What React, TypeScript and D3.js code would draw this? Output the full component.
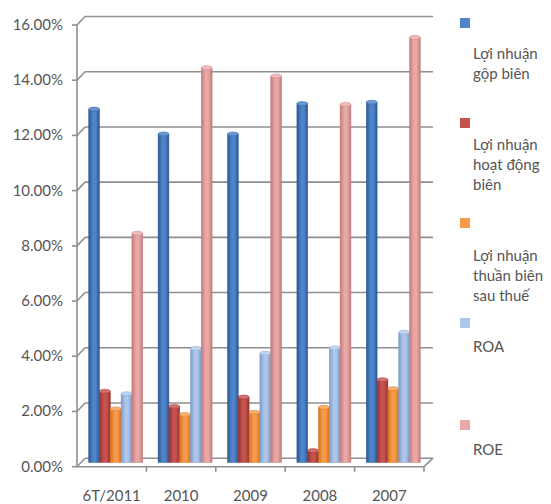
import React from "react";
import * as d3 from "d3";

const categories = ["6T/2011", "2010", "2009", "2008", "2007"];
const seriesNames = [
  "Lợi nhuận gộp biên",
  "Lợi nhuận hoạt động biên",
  "Lợi nhuận thuần biên sau thuế",
  "ROA",
  "ROE",
];
const legendLines = [
  ["Lợi nhuận", "gộp biên"],
  ["Lợi nhuận", "hoạt động", "biên"],
  ["Lợi nhuận", "thuần biên", "sau thuế"],
  ["ROA"],
  ["ROE"],
];
const grossMargin = [12.8, 11.9, 11.9, 13.0, 13.05];
const operatingMargin = [2.58, 2.03, 2.37, 0.43, 3.0];
const netMargin = [1.94, 1.74, 1.82, 2.0, 2.67];
const roa = [2.49, 4.13, 3.96, 4.15, 4.72];
const roe = [8.3, 14.3, 14.0, 12.97, 15.4];
const yTicks = [0, 2, 4, 6, 8, 10, 12, 14, 16];

const seriesValues = [grossMargin, operatingMargin, netMargin, roa, roe];
const colors = [
  { edge: "#2b5895", mid: "#4f84c8", top: "#6a98d4" },
  { edge: "#963130", mid: "#c4524f", top: "#d4716e" },
  { edge: "#d4721c", mid: "#f89a4c", top: "#fab070" },
  { edge: "#7c9cc9", mid: "#aec6e8", top: "#c2d5ef" },
  { edge: "#c27b7b", mid: "#e8a8a8", top: "#f0bcbc" },
];

const FONT = "Lato, 'Open Sans', sans-serif";

export default function App() {
  const left = 77;
  const right = 424;
  const dx = 8;
  const dy = -8.5;
  const y = d3.scaleLinear().domain([0, 16]).range([466.7, 25]);
  const x0 = d3.scaleBand<string>().domain(categories).range([left, right]).paddingInner(0).paddingOuter(0);
  const innerW = 54;
  const x1 = d3
    .scaleBand<number>()
    .domain(d3.range(seriesNames.length))
    .range([(x0.bandwidth() - innerW) / 2, (x0.bandwidth() + innerW) / 2]);
  const bw = x1.bandwidth();

  const legendSquareTop = [18, 118, 218, 318, 420];
  const legendBaseline = [59, 150, 261, 352, 455];

  const gridColor = "#8f8f8f";
  const textColor = "#555555";

  return (
    <svg
      width={551}
      height={504}
      style={{ position: "absolute", left: 0, top: 0, background: "#fff" }}
      fontFamily={FONT}
    >
      <defs>
        {colors.map((c, i) => (
          <linearGradient key={i} id={`g${i}`} x1="0" x2="1" y1="0" y2="0">
            <stop offset="0%" stopColor={c.edge} />
            <stop offset="40%" stopColor={c.mid} />
            <stop offset="65%" stopColor={c.mid} />
            <stop offset="100%" stopColor={c.edge} />
          </linearGradient>
        ))}
      </defs>
      <rect width={551} height={504} fill="#fff" />

      {yTicks.map((t) => {
        const yy = y(t);
        return (
          <g key={t} stroke={gridColor} strokeWidth={1.6} fill="none">
            <line x1={left + dx} x2={right + dx + 1} y1={yy + dy} y2={yy + dy} />
            <line x1={left} x2={left + dx} y1={yy} y2={yy + dy} />
            <line x1={left - 5} x2={left} y1={yy} y2={yy} />
          </g>
        );
      })}
      <line x1={left} x2={left} y1={y(16)} y2={y(0)} stroke={gridColor} strokeWidth={1.6} />
      <line x1={left} x2={right} y1={y(0)} y2={y(0)} stroke={gridColor} strokeWidth={1.6} />
      <line x1={right} x2={right + dx + 1} y1={y(0)} y2={y(0) + dy} stroke={gridColor} strokeWidth={1.6} />
      {categories.map((c) => (
        <line
          key={c}
          x1={(x0(c) as number) + x0.bandwidth()}
          x2={(x0(c) as number) + x0.bandwidth()}
          y1={y(0)}
          y2={y(0) + 5}
          stroke={gridColor}
          strokeWidth={1.6}
        />
      ))}

      {categories.map((c, ci) => (
        <g key={c}>
          {seriesValues.map((vals, si) => {
            const bx = (x0(c) as number) + (x1(si) as number) + dx / 2;
            const base = y(0) + dy / 2;
            const top = y(vals[ci]) + dy / 2;
            const ry = 2;
            return (
              <g key={si}>
                <rect
                  x={bx}
                  y={top}
                  width={bw}
                  height={base - top}
                  fill={`url(#g${si})`}
                  stroke={colors[si].edge}
                  strokeWidth={0.6}
                  strokeOpacity={0.8}
                />
                <ellipse
                  cx={bx + bw / 2}
                  cy={top}
                  rx={bw / 2}
                  ry={ry}
                  fill={colors[si].top}
                  stroke={colors[si].edge}
                  strokeWidth={0.6}
                  strokeOpacity={0.8}
                />
              </g>
            );
          })}
        </g>
      ))}

      {yTicks.map((t) => (
        <text key={t} x={63} y={y(t) + 5} textAnchor="end" fontSize={15} fill={textColor}>
          {t.toFixed(2) + "%"}
        </text>
      ))}

      {categories.map((c) => (
        <text
          key={c}
          x={(x0(c) as number) + x0.bandwidth() / 2}
          y={501}
          textAnchor="middle"
          fontSize={15}
          fill={textColor}
        >
          {c}
        </text>
      ))}

      {seriesNames.map((s, i) => (
        <g key={s}>
          <rect x={460} y={legendSquareTop[i]} width={10} height={10} fill={colors[i].mid} />
          {legendLines[i].map((ln, li) => (
            <text key={li} x={473} y={legendBaseline[i] + li * 20} fontSize={15} fill={textColor}>
              {ln}
            </text>
          ))}
        </g>
      ))}
    </svg>
  );
}
